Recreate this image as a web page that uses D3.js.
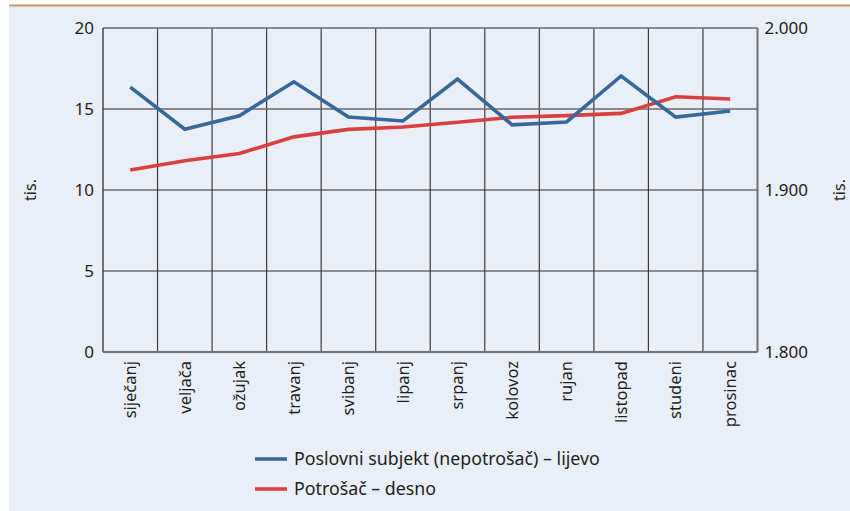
<!DOCTYPE html>
<html>
<head>
<meta charset="utf-8">
<script src="https://cdn.jsdelivr.net/npm/d3@7"></script>
<style>
  html, body { margin: 0; padding: 0; background: #fff; }
  svg { display: block; }
  text { font-family: "Noto Sans", "Open Sans", sans-serif; fill: #231f20; }
</style>
</head>
<body>
<svg id="chart" width="850" height="511"></svg>
<script>
// Months (Croatian)
const months = ["siječanj", "veljača", "ožujak", "travanj", "svibanj", "lipanj",
                "srpanj", "kolovoz", "rujan", "listopad", "studeni", "prosinac"];

// Business subjects (non-consumers), thousands – left axis
const business = [16.35, 13.75, 14.58, 16.68, 14.50, 14.26, 16.85, 14.02, 14.20, 17.04, 14.50, 14.88];

// Consumers, thousands – right axis
const consumers = [1912.3, 1918.0, 1922.5, 1932.8, 1937.4, 1938.9, 1941.8, 1944.9, 1945.9, 1947.3, 1957.6, 1956.2];

const leftTicks = [0, 5, 10, 15, 20];
const rightTicks = [1800, 1900, 2000];

const seriesNames = ["Poslovni subjekt (nepotrošač) – lijevo", "Potrošač – desno"];
const colors = ["#386899", "#d8413f"];

const svg = d3.select("#chart");

// Panel background and top rule
svg.append("rect").attr("x", 9).attr("y", 6).attr("width", 841).attr("height", 505).attr("fill", "#e9eef7");
svg.append("rect").attr("x", 9).attr("y", 4.5).attr("width", 841).attr("height", 2).attr("fill", "#c49b63");

const plot = { left: 103, right: 757.5, top: 28, bottom: 352 };

const x = d3.scaleBand().domain(months).range([plot.left, plot.right]).padding(0);
const yL = d3.scaleLinear().domain([0, 20]).range([plot.bottom, plot.top]);
const yR = d3.scaleLinear().domain([1800, 2000]).range([plot.bottom, plot.top]);

const fmtR = d => d3.format(",.0f")(d).replace(",", ".");

// Grid
const grid = svg.append("g");
grid.selectAll("line.v").data(months.slice(1)).join("line")
  .attr("x1", d => x(d)).attr("x2", d => x(d))
  .attr("y1", plot.top).attr("y2", plot.bottom)
  .attr("stroke", "#3d3d3d").attr("stroke-width", 1.2);
grid.selectAll("line.h").data(leftTicks.slice(1)).join("line")
  .attr("x1", plot.left).attr("x2", plot.right)
  .attr("y1", d => yL(d)).attr("y2", d => yL(d))
  .attr("stroke", d => d === 15 || d === 20 ? "#6a6a6a" : "#2e2e2e")
  .attr("stroke-width", d => d === 15 || d === 20 ? 1.6 : 1.2);

// Frame: left axis, bottom axis, right axis
svg.append("line").attr("x1", plot.left).attr("x2", plot.left).attr("y1", plot.top).attr("y2", plot.bottom)
  .attr("stroke", "#3d3d3d").attr("stroke-width", 1.4);
svg.append("line").attr("x1", plot.left).attr("x2", plot.right).attr("y1", plot.bottom).attr("y2", plot.bottom)
  .attr("stroke", "#6f6f6f").attr("stroke-width", 2);
svg.append("line").attr("x1", plot.right).attr("x2", plot.right).attr("y1", plot.top).attr("y2", plot.bottom)
  .attr("stroke", "#6f6f6f").attr("stroke-width", 2);

// Left axis labels
const axL = svg.append("g").attr("transform", `translate(${plot.left},0)`)
  .call(d3.axisLeft(yL).tickValues(leftTicks).tickSize(0).tickPadding(9));
axL.select(".domain").remove();
axL.selectAll("text").style("font-size", "17px").style("font-family", "'Noto Sans', sans-serif").attr("fill", "#231f20");

// Right axis labels
const axR = svg.append("g").attr("transform", `translate(${plot.right},0)`)
  .call(d3.axisRight(yR).tickValues(rightTicks).tickFormat(fmtR).tickSize(0).tickPadding(7));
axR.select(".domain").remove();
axR.selectAll("text").style("font-size", "17px").style("font-family", "'Noto Sans', sans-serif").attr("fill", "#231f20");

// Month labels (rotated)
const axB = svg.append("g").attr("transform", `translate(0,${plot.bottom})`)
  .call(d3.axisBottom(x).tickSize(0).tickPadding(0));
axB.select(".domain").remove();
axB.selectAll("text")
  .style("font-size", "16.5px").style("font-family", "'Noto Sans', sans-serif").attr("fill", "#231f20")
  .attr("text-anchor", "end")
  .attr("transform", "rotate(-90)")
  .attr("x", -9).attr("y", 0).attr("dy", "0.35em");

// Unit labels
svg.append("text").attr("transform", "translate(36,190) rotate(-90)")
  .attr("text-anchor", "middle").style("font-size", "16px").text("tis.");
svg.append("text").attr("transform", "translate(845,190) rotate(-90)")
  .attr("text-anchor", "middle").style("font-size", "16px").text("tis.");

// Series lines
const lineL = d3.line().x((d, i) => x(months[i]) + x.bandwidth() / 2).y(d => yL(d));
const lineR = d3.line().x((d, i) => x(months[i]) + x.bandwidth() / 2).y(d => yR(d));

svg.append("path").datum(consumers).attr("d", lineR)
  .attr("fill", "none").attr("stroke", colors[1]).attr("stroke-width", 3.6).attr("stroke-linejoin", "miter");
svg.append("path").datum(business).attr("d", lineL)
  .attr("fill", "none").attr("stroke", colors[0]).attr("stroke-width", 3.6).attr("stroke-linejoin", "miter");

// Legend
const legend = svg.append("g");
seriesNames.forEach((name, i) => {
  const ly = 459 + i * 30;
  legend.append("line").attr("x1", 255).attr("x2", 287).attr("y1", ly).attr("y2", ly)
    .attr("stroke", colors[i]).attr("stroke-width", 3.6);
  legend.append("text").attr("x", 294).attr("y", ly).attr("dy", "0.35em")
    .style("font-size", "17.8px").text(name);
});
</script>
</body>
</html>
